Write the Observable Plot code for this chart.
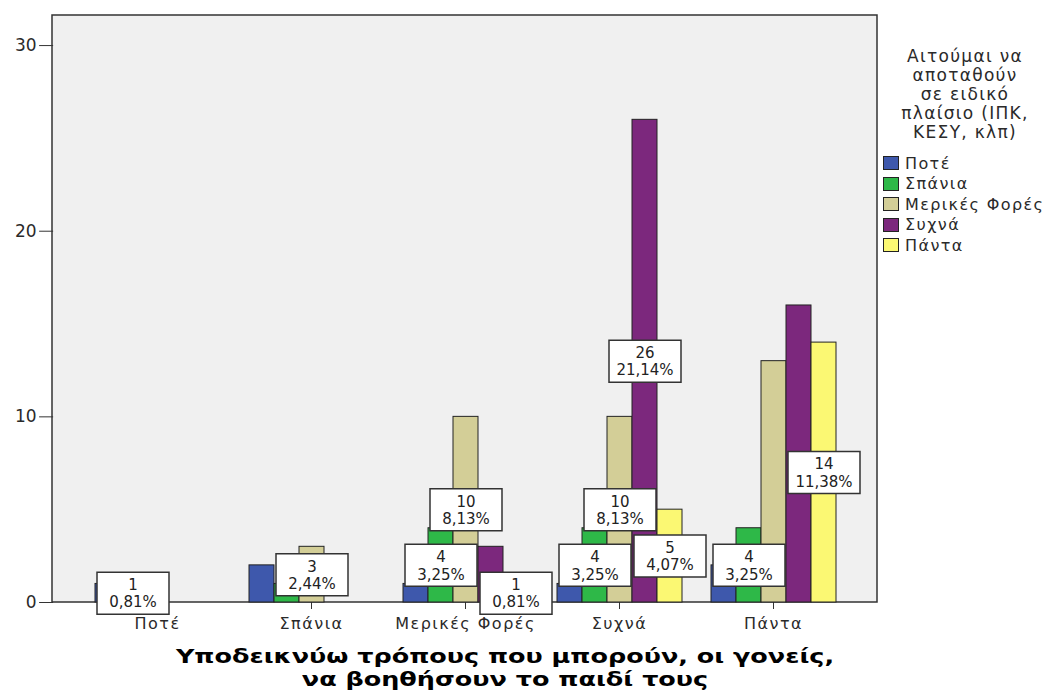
<!DOCTYPE html>
<html>
<head>
<meta charset="utf-8">
<script src="https://cdn.jsdelivr.net/npm/d3@7"></script>
<script src="https://cdn.jsdelivr.net/npm/@observablehq/plot@0.6"></script>
<style>
  html, body { margin: 0; padding: 0; background: #ffffff; }
  #wrap { position: relative; width: 1051px; height: 690px; font-family: "DejaVu Sans", sans-serif; overflow: hidden; }
  #legend { position: absolute; left: 876px; top: 47px; width: 178px; color: #2a2a2a; }
  #legend .title { text-align: center; font-size: 17px; line-height: 19px; margin-bottom: 11px; letter-spacing: 1.3px; }
  #legend .item { display: flex; align-items: center; height: 20.5px; font-size: 16px; letter-spacing: 1.4px; white-space: nowrap; }
  #legend .sw { width: 16px; height: 14px; border: 1px solid #222; margin-left: 7px; margin-right: 6px; box-sizing: border-box; flex: none; }
  .xtitle { position: absolute; left: 0; width: 1010px; text-align: center;
            font-weight: bold; font-size: 19px; line-height: 22px; color: #000;
            transform: scaleX(1.34); transform-origin: 505px 0; white-space: nowrap; }
  #xtitle1 { top: 645px; }
  #xtitle2 { top: 668px; }
  #chart g[aria-label="fx-axis tick label"] { letter-spacing: 1.5px; }
</style>
</head>
<body>
<div id="wrap">
  <div id="chart"></div>
  <div id="legend"></div>
  <div class="xtitle" id="xtitle1">Υποδεικνύω τρόπους που μπορούν, οι γονείς,</div>
  <div class="xtitle" id="xtitle2">να βοηθήσουν το παιδί τους</div>
</div>
<script>
// Groups on the horizontal axis
const groups = ["Ποτέ", "Σπάνια", "Μερικές Φορές", "Συχνά", "Πάντα"];
// Legend categories (answer to "Αιτούμαι να αποταθούν σε ειδικό πλαίσιο")
const series = ["Ποτέ", "Σπάνια", "Μερικές Φορές", "Συχνά", "Πάντα"];
const seriesColors = ["#3e58ac", "#2eb848", "#d3ce97", "#7c287d", "#fbf873"];
const legendTitle = ["Αιτούμαι να", "αποταθούν", "σε ειδικό", "πλαίσιο (ΙΠΚ,", "ΚΕΣΥ, κλπ)"];

// Counts per legend category, one value per group
const countsPote    = [1, 2, 1, 1, 2];
const countsSpania  = [1, 1, 4, 4, 4];
const countsMerikes = [0, 3, 10, 10, 13];
const countsSychna  = [0, 0, 3, 26, 16];
const countsPanta   = [0, 0, 1, 5, 14];
const totalN = 123;

// Cells that carry a count / percent label
const labelledCells = [
  ["Ποτέ", "Σπάνια"],
  ["Σπάνια", "Μερικές Φορές"],
  ["Μερικές Φορές", "Σπάνια"],
  ["Μερικές Φορές", "Μερικές Φορές"],
  ["Μερικές Φορές", "Πάντα"],
  ["Συχνά", "Σπάνια"],
  ["Συχνά", "Μερικές Φορές"],
  ["Συχνά", "Συχνά"],
  ["Συχνά", "Πάντα"],
  ["Πάντα", "Σπάνια"],
  ["Πάντα", "Πάντα"]
];

const yTicks = [0, 10, 20, 30];

const countsBySeries = [countsPote, countsSpania, countsMerikes, countsSychna, countsPanta];
const rows = [];
series.forEach((s, si) => groups.forEach((g, gi) => {
  rows.push({group: g, series: s, value: countsBySeries[si][gi]});
}));
const bars = rows.filter(d => d.value > 0);
const labels = labelledCells.map(([g, s]) => rows.find(d => d.group === g && d.series === s));
const pct = v => (v / totalN * 100).toFixed(2).replace(".", ",") + "%";

// White framed box drawn behind each label
const labelBox = {draw(ctx) { ctx.rect(-36, -21, 72, 42); }};

const ML = 52, MR = 174, MT = 15, MB = 88, W = 1051, H = 690;
const PAD_IN = 0.17, PAD_OUT = 0.2585;
// The y axis sits on the first facet; shift it back to the plot's left edge
const fxStep = (W - ML - MR) / (groups.length - PAD_IN + 2 * PAD_OUT);
const firstFacetOffset = fxStep * PAD_OUT;

const plot = Plot.plot({
  width: W,
  height: H,
  marginLeft: ML,
  marginRight: MR,
  marginTop: MT,
  marginBottom: MB,
  style: {fontFamily: "DejaVu Sans, sans-serif", fontSize: "16px", color: "#2a2a2a", background: "transparent"},
  fx: {domain: groups, paddingInner: PAD_IN, paddingOuter: PAD_OUT, label: null},
  x: {domain: series, padding: 0, axis: null},
  y: {domain: [0, 31.62], label: null},
  color: {domain: series, range: seriesColors},
  marks: [
    Plot.axisY({ticks: yTicks, tickSize: 14, tickPadding: 3, fontSize: 17, label: null,
                stroke: "#333", dx: -firstFacetOffset}),
    Plot.axisFx({anchor: "bottom", tickSize: 7, tickPadding: 8, fontSize: 16, label: null, stroke: "#333"}),
    Plot.barY(bars, {fx: "group", x: "series", y: "value", fill: "series", stroke: "#222", strokeWidth: 1}),
    Plot.dot(labels, {fx: "group", x: "series", y: d => d.value / 2, symbol: labelBox,
                      fill: "white", stroke: "#333", strokeWidth: 1.5}),
    Plot.text(labels, {fx: "group", x: "series", y: d => d.value / 2,
                       text: d => `${d.value}\n${pct(d.value)}`, lineHeight: 1.15,
                       fontSize: 15, fill: "#222"})
  ]
});

// Grey plotting area with a dark border
d3.select(plot).insert("rect", ":first-child")
  .attr("x", ML).attr("y", MT)
  .attr("width", W - ML - MR).attr("height", H - MT - MB)
  .attr("fill", "#f0f0f0").attr("stroke", "#333").attr("stroke-width", 1.5);

document.getElementById("chart").appendChild(plot);

// Legend
const legend = d3.select("#legend");
legend.append("div").attr("class", "title").html(legendTitle.join("<br>"));
series.forEach((s, i) => {
  const it = legend.append("div").attr("class", "item");
  it.append("div").attr("class", "sw").style("background", seriesColors[i]);
  it.append("span").text(s);
});
</script>
</body>
</html>
